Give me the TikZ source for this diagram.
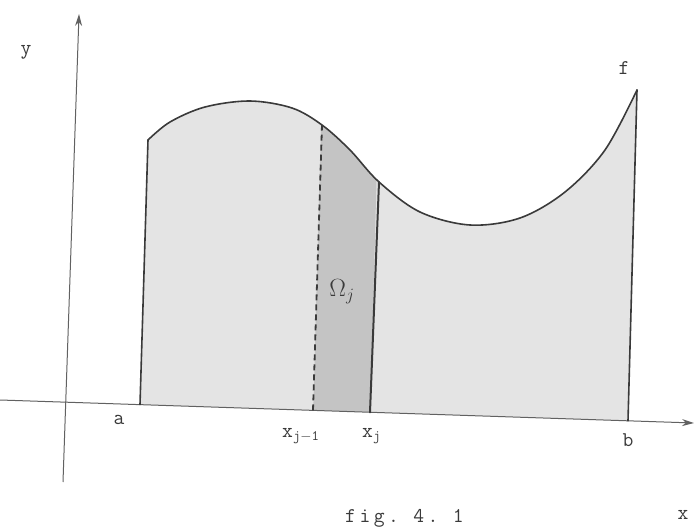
\documentclass[tikz,border=0pt]{standalone}
\usetikzlibrary{arrows.meta}
\definecolor{pencil}{HTML}{3A3A3A}
\definecolor{shadeA}{HTML}{E4E4E4}
\definecolor{shadeB}{HTML}{C4C4C4}
\begin{document}
\begin{tikzpicture}[x=1pt,y=-1pt,
  axis/.style={draw=pencil!80, line width=1pt},
  edge/.style={draw=pencil, line width=1.6pt, line cap=round},
  lbl/.style={text=pencil, font=\fontsize{21}{21}\selectfont\ttfamily, inner sep=0pt},
]
\useasboundingbox (0,0) rectangle (694,532);
\def\curvepts{(148,140) (170,122) (205,107) (250,101) (292,108) (322,125) (350,150) (379,182) (420,212) (470,225) (520,218) (565,192) (605,150) (637,90)}
% light area
\fill[shadeA] (140,404.6) -- plot[smooth,tension=0.55] coordinates {\curvepts} -- (628,420.8) -- cycle;
% darker strip
\begin{scope}
\clip (140,404.6) -- plot[smooth,tension=0.55] coordinates {\curvepts} -- (628,420.8) -- cycle;
\fill[shadeB] (313,420) -- (322,90) -- (379,90) -- (370,420) -- cycle;
\end{scope}
% axes
\draw[axis,-{Stealth[length=12pt,width=7pt]}] (63,482) -- (79,14);
\draw[axis,-{Stealth[length=12pt,width=7pt]}] (0,400) -- (694,423);
% curve and verticals
\draw[edge] plot[smooth,tension=0.55] coordinates {\curvepts};
\draw[edge] (140,404.6) -- (148,140);
\draw[edge] (628,420.8) -- (637,90);
\draw[edge, line width=2pt] (370,412.3) -- (379,182);
\draw[pencil, line width=1.8pt, dash pattern=on 6pt off 4pt] (313,410.4) -- (322,125);
% labels
\node[lbl] (ylab) at (26,52) {y};
\node[lbl] (xlab) at (683,515) {x};
\node[lbl] (flab) at (624,68) {f};
\node[lbl] (alab) at (119,420) {a};
\node[lbl] (blab) at (628,440) {b};
\node[lbl, anchor=west] (xjm) at (282,436) {x$_{\mathtt{j-1}}$};
\node[lbl, anchor=west] (xj) at (362,436) {x$_{\mathtt{j}}$};
\node[lbl, font=\fontsize{27}{27}\selectfont] (om) at (342,292) {$\Omega_{j}$};
\node[lbl, anchor=west] (cap) at (345,518) {f\,i\,g\,. 4\,. 1};
\end{tikzpicture}
\end{document}
